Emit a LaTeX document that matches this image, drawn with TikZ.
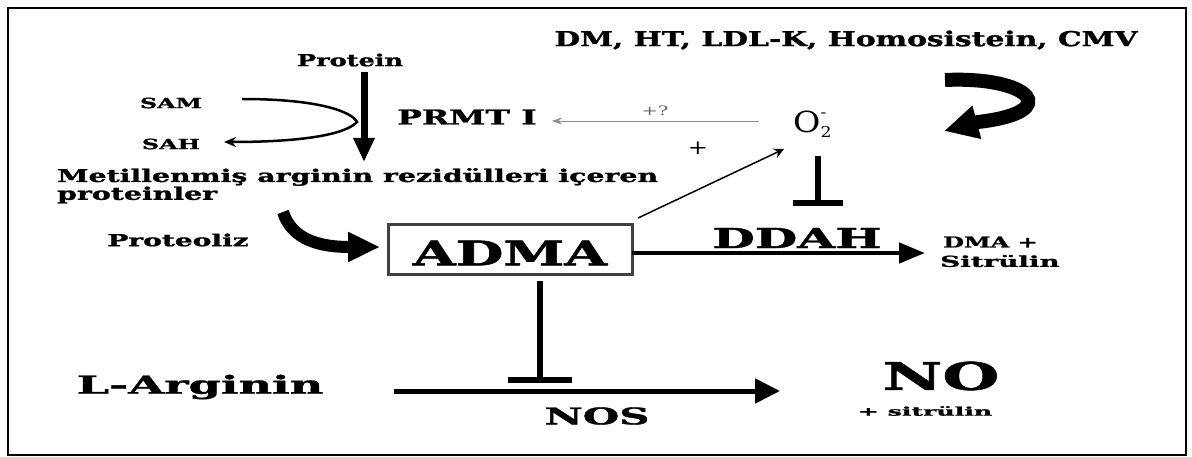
\documentclass[tikz,border=0pt]{standalone}
\usepackage{fontspec}
\usepackage{graphicx}
\setmainfont{DejaVu Serif}[BoldFeatures={FakeBold=1.2}]
\usetikzlibrary{arrows.meta}
\newcommand\wx[2]{\scalebox{#1}[1]{#2}}
\tikzset{
  lbl/.style={inner sep=0pt, font=\bfseries},
  heavy/.style={draw=black, line width=6pt},
  thinarrow/.style={draw=black!45, line width=0.8pt},
}
\begin{document}
\begin{tikzpicture}[x=1pt,y=-1pt]
\useasboundingbox (0,0) rectangle (1192,457);
\draw[line width=2.5pt] (8,8) rectangle (1186,455);

% texts
\node[lbl, font=\bfseries\fontsize{20.5}{22}\selectfont] (dm) at (846,40) {\wx{1.45}{DM, HT, LDL-K, Homosistein, CMV}};
\node[lbl, font=\bfseries\fontsize{16.5}{18}\selectfont] (protein) at (350,60) {\wx{1.55}{Protein}};
\node[lbl, font=\bfseries\fontsize{14}{15}\selectfont] (sam) at (171,103) {\wx{1.7}{SAM}};
\node[lbl, font=\bfseries\fontsize{14}{15}\selectfont] (sah) at (171,144) {\wx{1.7}{SAH}};
\node[lbl, font=\bfseries\fontsize{20.5}{22}\selectfont] (prmt) at (467,117) {\wx{1.6}{PRMT I}};
\node[lbl, font=\fontsize{13}{14}\selectfont\mdseries, text=black!60] (plusq) at (655,111) {\wx{1.5}{+?}};
\node[lbl, font=\fontsize{29}{30}\selectfont\mdseries, anchor=west] (o2) at (793,124) {\wx{1.15}{O\rlap{\raisebox{0.5em}{\fontsize{15}{15}\selectfont -}}\raisebox{-0.18em}{\fontsize{15}{15}\selectfont 2}}};
\node[lbl, font=\fontsize{20}{22}\selectfont\mdseries] (plus) at (698,148) {\wx{1.2}{+}};
\node[lbl, font=\bfseries\fontsize{17.5}{19}\selectfont, anchor=west] (met) at (57,177) {\wx{1.62}{Metillenmiş arginin rezidülleri içeren}};
\node[lbl, font=\bfseries\fontsize{17.5}{19}\selectfont, anchor=west] (prot2) at (57,195) {\wx{1.62}{proteinler}};
\node[lbl, font=\bfseries\fontsize{16.5}{18}\selectfont] (proteoliz) at (178,240) {\wx{1.7}{Proteoliz}};
\node[draw=black!75, line width=3pt, minimum width=244pt, minimum height=50pt, inner sep=0pt] (adma) at (510,250) {};
\node[lbl, font=\bfseries\fontsize{34}{36}\selectfont] (admat) at (510,253) {\wx{1.62}{ADMA}};
\node[lbl, font=\bfseries\fontsize{27.5}{30}\selectfont] (ddah) at (797,238) {\wx{1.78}{DDAH}};
\node[lbl, font=\bfseries\fontsize{15}{16}\selectfont, anchor=west] (dma) at (943,242) {\wx{1.6}{DMA +}};
\node[lbl, font=\bfseries\fontsize{15}{16}\selectfont, anchor=west] (sit) at (940,261) {\wx{1.85}{Sitrülin}};
\node[lbl, font=\bfseries\fontsize{25}{27}\selectfont] (larg) at (200,387) {\wx{1.85}{L-Arginin}};
\node[lbl, font=\bfseries\fontsize{23}{25}\selectfont] (nos) at (597,416) {\wx{1.82}{NOS}};
\node[lbl, font=\bfseries\fontsize{38}{40}\selectfont] (no) at (941,376) {\wx{1.72}{NO}};
\node[lbl, font=\bfseries\fontsize{12}{13}\selectfont] (sitno) at (925,411) {\wx{2.1}{+ sitrülin}};

% coordinates
\coordinate (pa1) at (364,72);
\coordinate (pa2) at (364,162);
\coordinate (s1) at (242,99);
\coordinate (s2) at (224,142);
\coordinate (q1) at (759,121);
\coordinate (q2) at (552,121);
\coordinate (x1) at (638,218);
\coordinate (x2) at (784,149);
\coordinate (o1) at (818,156);
\coordinate (o2b) at (818,203);
\coordinate (d1) at (632,253);
\coordinate (d2) at (925,253);
\coordinate (a1) at (540,281);
\coordinate (a2) at (540,380);
\coordinate (n1) at (394,391);
\coordinate (n2) at (780,391);
\coordinate (r1) at (945,80);
\coordinate (r2) at (944,131);
\coordinate (p1) at (283,212);
\coordinate (p2) at (380,247);

% arrows
\draw[line width=7pt, -{Triangle[length=24pt,width=20pt]}] (pa1) -- (pa2);
\draw[line width=2.5pt, -{Stealth[length=12pt,width=10pt]}] (s1) .. controls (320,99) and (352,112) .. (357,122) .. controls (345,135) and (300,142) .. (s2);
\draw[thinarrow, -{Stealth[length=10pt,width=7pt]}] (q1) -- (q2);
\draw[line width=1.5pt, -{Stealth[length=10pt,width=10pt]}] (x1) -- (x2);
\draw[heavy] (o1) -- (o2b);
\draw[heavy] ([xshift=-25pt]o2b) -- ([xshift=25pt]o2b);
\draw[line width=4.5pt, -{Triangle[length=26pt,width=20pt]}] (d1) -- (d2);
\draw[heavy] (a1) -- (a2);
\draw[heavy] ([xshift=-32pt]a2) -- ([xshift=32pt]a2);
\draw[line width=5pt, -{Triangle[length=25pt,width=24pt]}] (n1) -- (n2);
\draw[line width=14pt, -{Triangle[length=34pt,width=32pt]}] (r1) .. controls (1030,76) and (1065,112) .. (978,122) -- (r2);
\draw[line width=12pt, -{Triangle[length=32pt,width=28pt]}] (p1) .. controls (292,240) and (320,247) .. (350,247) -- (p2);
\end{tikzpicture}
\end{document}
